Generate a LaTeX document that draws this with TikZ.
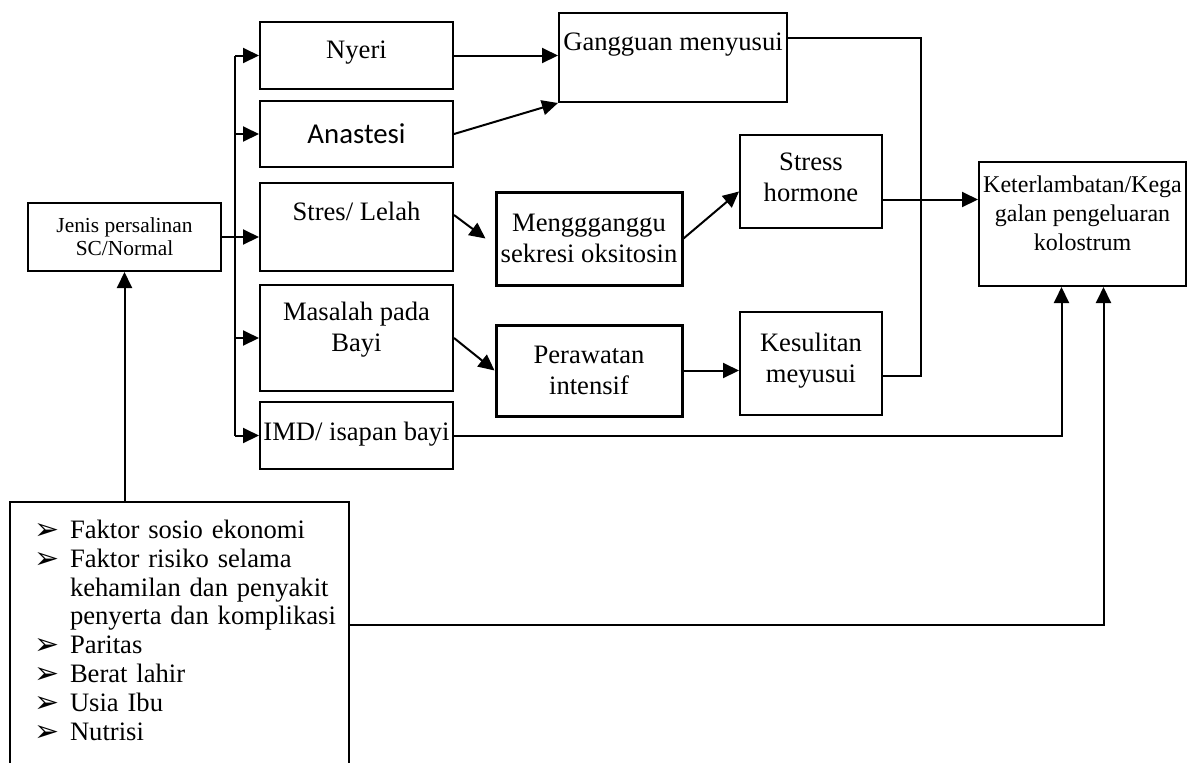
\documentclass[tikz,border=0pt]{standalone}
\usepackage{fontspec}
\setmainfont{Liberation Serif}
\newfontfamily\calfont{Carlito}
\newfontfamily\symfont{DejaVu Sans}
\usetikzlibrary{arrows.meta,calc}

\newcommand{\bul}{\makebox[18pt][l]{\raisebox{-0.5pt}{\symfont\fontsize{15}{15}\selectfont\symbol{"27A2}}}}
\newcommand{\ind}{\hspace*{18pt}}

\begin{document}
\begin{tikzpicture}[x=0.5pt, y=-0.5pt,
  box/.style={draw, line width=1pt, inner sep=1pt, align=center,
    font=\fontsize{13.3}{15.5}\selectfont},
  arr/.style={line width=1pt, -{Triangle[length=8pt,width=7.5pt]}}]
\useasboundingbox (0,0) rectangle (1194,762);
\clip (0,0) rectangle (1194,762);

% box centres
\coordinate (j) at (124.5,237);
\coordinate (n) at (356.5,55.5);
\coordinate (a) at (356.5,134);
\coordinate (s) at (356.5,227);
\coordinate (m) at (356.5,338);
\coordinate (i) at (356.5,435.5);
\coordinate (g) at (673,57.5);
\coordinate (o) at (589,238.5);
\coordinate (p) at (589,370.5);
\coordinate (h) at (811,181.5);
\coordinate (k) at (811,363.5);
\coordinate (t) at (1082.5,224);
\coordinate (bus) at (235,0);

\node[box, minimum width=96.5pt, minimum height=34pt, font=\fontsize{10.7}{11.5}\selectfont] (jenis) at (j) {Jenis persalinan\\SC/Normal};
\node[box, minimum width=96.5pt, minimum height=33.5pt] (nyeri) at (n) {Nyeri\\[-10pt]~};
\node[box, minimum width=96.5pt, minimum height=33pt, font=\calfont\fontsize{14.4}{17}\selectfont] (anastesi) at (a) {Anastesi};
\node[box, minimum width=96.5pt, minimum height=44pt] (stres) at (s) {Stres/ Lelah\\~};
\node[box, minimum width=96.5pt, minimum height=53pt] (masalah) at (m) {Masalah pada\\Bayi\\[-4pt]~};
\node[box, minimum width=96.5pt, minimum height=33.5pt] (imd) at (i) {IMD/ isapan bayi\\[-11.5pt]~};
\node[box, minimum width=114pt, minimum height=44.5pt] (gangguan) at (g) {Gangguan menyusui\\~};
\node[box, line width=1.5pt, minimum width=93pt, minimum height=46.5pt] (oksitosin) at (o) {Menggganggu\\sekresi oksitosin};
\node[box, line width=1.5pt, minimum width=93pt, minimum height=45.5pt] (rawat) at (p) {Perawatan\\intensif};
\node[box, minimum width=71pt, minimum height=46.5pt] (hormon) at (h) {Stress\\hormone\\[-11.5pt]~};
\node[box, minimum width=71pt, minimum height=51.5pt] (sulit) at (k) {Kesulitan\\meyusui\\[-9.5pt]~};
\node[box, minimum width=103.5pt, minimum height=62pt, font=\fontsize{12}{14.5}\selectfont] (kolostrum) at (t) {Keterlambatan/Kega\\galan pengeluaran\\kolostrum\\[-4pt]~};
\node[box, anchor=north west, align=left, text width=145.5pt, inner xsep=12pt, inner ysep=9pt, font=\fontsize{13.3}{14.4}\selectfont] (faktor) at (9,501)
  {\bul\mbox{Faktor sosio ekonomi}\\
   \bul\mbox{Faktor risiko selama}\\
   \ind\mbox{kehamilan dan penyakit}\\
   \ind\mbox{penyerta dan komplikasi}\\
   \bul Paritas\\
   \bul Berat lahir\\
   \bul Usia Ibu\\
   \bul Nutrisi\\
   ~};

% bus on the left
\draw[line width=1pt] (bus |- nyeri) -- (bus |- imd);
\foreach \b in {nyeri,anastesi,masalah,imd}
{ \draw[arr] (bus |- \b) -- (\b); }
\draw[arr] (jenis) -- (jenis -| stres.west);
\draw[arr] (faktor.north -| jenis) -- (jenis);

\draw[arr] (nyeri) -- (nyeri -| gangguan.west);
\draw[arr] (anastesi.east) -- (gangguan.south west);
\draw[arr] ([yshift=6pt]stres.east) -- ([xshift=-4.5pt]oksitosin.west);
\draw[arr] (masalah.east) -- (rawat.west);
\draw[arr] (oksitosin.east) -- ([yshift=-5pt]hormon.west);
\draw[arr] (rawat) -- (rawat -| sulit.west);
\draw[arr] ([yshift=-9pt]hormon.east) -- ([yshift=-9pt]hormon.east -| kolostrum.west);
\draw[line width=1pt] ([yshift=10pt]gangguan.east) -- ++(133,0) |- ([yshift=-6pt]sulit.east);
\draw[arr] (imd) -| ([xshift=-10.5pt]kolostrum.south);
\draw[arr] ([yshift=-62pt]faktor.north east) -| ([xshift=10.5pt]kolostrum.south);

\end{tikzpicture}
\end{document}
